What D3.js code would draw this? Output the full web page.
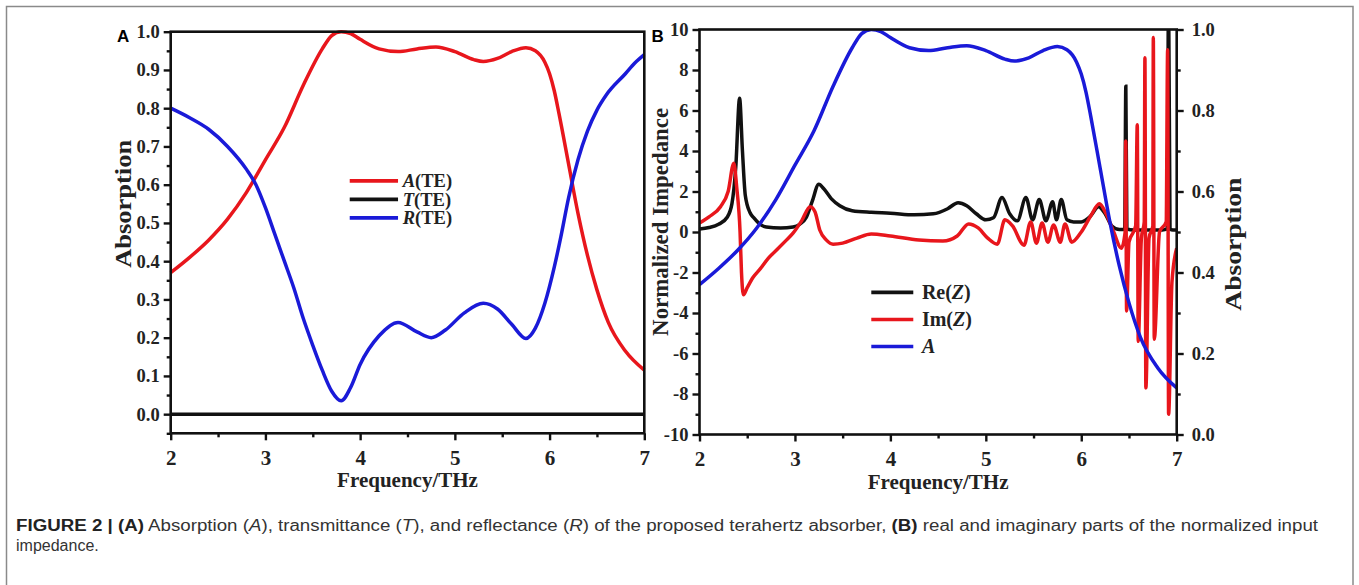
<!DOCTYPE html>
<html>
<head>
<meta charset="utf-8">
<script src="https://cdn.jsdelivr.net/npm/d3@7"></script>
<style>
  body { margin: 0; background: #fff; }
  .tick text { font-family: "Liberation Serif", "Times New Roman", serif; font-weight: bold; fill: #222; }
  .tick line { stroke: #111; stroke-width: 2.4; }
  .serif { font-family: "Liberation Serif", "Times New Roman", serif; font-weight: bold; fill: #222; }
  .caption { font-family: "Liberation Sans", Arial, sans-serif; font-size: 16px; fill: #333; }
</style>
</head>
<body>
<div id="chart"></div>
<script>
// ---------- values ----------

// tick labels
const freqTicks = [2, 3, 4, 5, 6, 7];
const absTicks = [0.0, 0.1, 0.2, 0.3, 0.4, 0.5, 0.6, 0.7, 0.8, 0.9, 1.0];
const impTicks = [-10, -8, -6, -4, -2, 0, 2, 4, 6, 8, 10];
const rightTicks = [0.0, 0.2, 0.4, 0.6, 0.8, 1.0];

// absorption A(TE), also the blue "A" curve in panel B
const absFreq = [2.0, 2.2, 2.4, 2.6, 2.8, 3.0, 3.2, 3.4, 3.6, 3.7, 3.8, 3.9, 4.0, 4.2, 4.4, 4.6, 4.8, 5.0,
  5.2, 5.3, 5.45, 5.6, 5.75, 5.85, 5.95, 6.0, 6.05, 6.1, 6.2, 6.3, 6.4, 6.5, 6.62, 6.8, 7.0];
const absVals = [0.37, 0.41, 0.455, 0.51, 0.58, 0.665, 0.75, 0.86, 0.955, 0.99, 1.0, 0.995, 0.98, 0.955, 0.948,
  0.955, 0.96, 0.948, 0.927, 0.922, 0.93, 0.948, 0.958, 0.95, 0.92, 0.89, 0.845, 0.785, 0.655, 0.525, 0.415, 0.325,
  0.24, 0.165, 0.115];

// transmittance T(TE)
const transFreq = [2.0, 7.0];
const transVals = [0.0, 0.0];

// reflectance R(TE)
const reflFreq = [2.0, 2.2, 2.4, 2.6, 2.8, 2.9, 3.0, 3.1, 3.2, 3.3, 3.4, 3.5, 3.6, 3.7, 3.8, 3.9, 4.0, 4.2,
  4.4, 4.6, 4.75, 4.9, 5.1, 5.3, 5.45, 5.6, 5.75, 5.85, 5.95, 6.05, 6.12, 6.2, 6.3, 6.4, 6.5, 6.6, 6.8, 6.9, 7.0];
const reflVals = [0.8, 0.775, 0.745, 0.7, 0.64, 0.6, 0.54, 0.47, 0.4, 0.33, 0.25, 0.18, 0.115, 0.06, 0.035,
  0.07, 0.13, 0.205, 0.24, 0.215, 0.2, 0.22, 0.265, 0.29, 0.275, 0.235, 0.198, 0.225, 0.29, 0.385, 0.465, 0.565,
  0.665, 0.74, 0.795, 0.835, 0.89, 0.918, 0.94];

// Re(Z)
const reFreq = [2.0, 2.1, 2.2, 2.29, 2.34, 2.38, 2.42, 2.45, 2.48, 2.53, 2.57, 2.63, 2.7, 2.85, 2.98, 3.05,
  3.12, 3.18, 3.25, 3.3, 3.38, 3.47, 3.6, 3.8, 4.0, 4.25, 4.45, 4.6, 4.71, 4.8, 4.9, 5.0, 5.08, 5.17, 5.25,
  5.33, 5.42, 5.49, 5.56, 5.63, 5.7, 5.74, 5.79, 5.85, 5.92, 6.0, 6.1, 6.18, 6.25, 6.32, 6.4, 6.455, 6.467,
  6.478, 6.55, 6.7, 6.85, 6.9, 6.915, 6.93, 6.96, 7.0];
const reVals = [0.15, 0.22, 0.38, 0.73, 1.4, 3.2, 6.6, 4.0, 1.8, 0.95, 0.7, 0.4, 0.25, 0.2, 0.25, 0.38,
  0.73, 1.5, 2.36, 2.15, 1.65, 1.3, 1.05, 0.97, 0.93, 0.85, 0.9, 1.15, 1.45, 1.3, 0.9, 0.6, 0.7, 1.7, 0.9,
  0.55, 1.7, 0.6, 1.6, 0.55, 1.5, 0.6, 1.6, 0.6, 0.5, 0.5, 0.8, 1.25, 0.9, 0.3, 0.12, 0.12, 7.2,
  0.15, 0.1, 0.1, 0.1, 0.15, 12, 0.15, 0.1, 0.1];

// Im(Z)
const imFreq = [2.0, 2.1, 2.22, 2.3, 2.36, 2.39, 2.425, 2.44, 2.46, 2.5, 2.56, 2.64, 2.72, 2.81, 2.9, 2.98,
  3.07, 3.16, 3.21, 3.26, 3.33, 3.4, 3.5, 3.65, 3.8, 4.0, 4.3, 4.55, 4.7, 4.82, 4.92, 5.02, 5.12, 5.2, 5.28,
  5.4, 5.47, 5.53, 5.59, 5.65, 5.71, 5.78, 5.83, 5.9, 6.0, 6.1, 6.19, 6.26, 6.34, 6.42, 6.46, 6.466, 6.475,
  6.5, 6.57, 6.587, 6.597, 6.63, 6.66, 6.667, 6.677, 6.71, 6.75, 6.755, 6.765, 6.82, 6.89, 6.905, 6.915,
  6.95, 7.0];
const imVals = [0.45, 0.75, 1.25, 2.0, 3.4, 2.2, 0.0, -2.0, -3.1, -2.75, -2.25, -1.8, -1.3, -0.88, -0.45,
  -0.06, 0.55, 1.25, 1.0, 0.1, -0.4, -0.6, -0.55, -0.3, -0.1, -0.2, -0.4, -0.45, -0.2, 0.4, 0.2, -0.3, -0.6,
  0.6, 0.3, -0.65, 0.5, -0.55, 0.45, -0.5, 0.35, -0.5, 0.4, -0.5, 0.0, 0.8, 1.4, 0.9, 0.0, -0.8, 0.0, 4.5,
  -3.9, -0.5, 0.3, 5.3, -5.4, -0.3, 0.5, 8.6, -7.7, -0.3, 0.3, 9.6, -5.3, 0.0, 0.5, 9.0, -9.0, -2.5, -0.8];

const RED = "#e8161c";
const BLUE = "#1a1ad8";
const BLACK = "#111";

// ---------- svg ----------
const W = 1359, H = 585;
const svg = d3.select("#chart").append("svg")
    .attr("width", W)
    .attr("height", H);

// outer frame of the figure (bottom edge runs off the page)
svg.append("rect")
    .attr("x", 6.5).attr("y", 6.5)
    .attr("width", 1346.5).attr("height", 700)
    .attr("fill", "none")
    .attr("stroke", "#8a8a8a")
    .attr("stroke-width", 1.5);

const zip = (xs, ys) => xs.map((x, i) => [x, ys[i]]);
const plain = d => String(d);   // keeps the short hyphen of the original labels

// draw one axis with major labelled ticks and small unlabelled ones
function axis(g, maker, scale, major, minor, fmt, fontSize, pad) {
    g.call(maker(scale).tickValues(minor).tickSize(4).tickFormat(""))
        .call(a => a.select(".domain").remove());
    const g2 = g.append("g")
        .call(maker(scale).tickValues(major).tickSize(7).tickPadding(pad).tickFormat(fmt));
    g2.select(".domain").remove();
    g2.selectAll("text").style("font-size", fontSize + "px");
}

// ******************** panel A ********************
const ax = d3.scaleLinear().domain([2, 7]).range([170.7, 644.3]);
const ay = d3.scaleLinear().domain([-0.05, 1.0]).range([433.3, 31.7]);

axis(svg.append("g").attr("transform", `translate(0,${ay(-0.05)})`),
    d3.axisBottom, ax, freqTicks, d3.range(2.5, 7, 1), plain, 21, 10);
axis(svg.append("g").attr("transform", `translate(${ax(2)},0)`),
    d3.axisLeft, ay, absTicks, d3.range(-0.05, 1.0, 0.1), d3.format(".1f"), 18.5, 4);

const lineA = d3.line()
    .x(d => ax(d[0]))
    .y(d => ay(d[1]))
    .curve(d3.curveMonotoneX);

svg.append("path").datum(zip(transFreq, transVals))
    .attr("fill", "none").attr("stroke", BLACK).attr("stroke-width", 3.5).attr("d", lineA);
svg.append("path").datum(zip(absFreq, absVals))
    .attr("fill", "none").attr("stroke", RED).attr("stroke-width", 3.5).attr("d", lineA);
svg.append("path").datum(zip(reflFreq, reflVals))
    .attr("fill", "none").attr("stroke", BLUE).attr("stroke-width", 3.5).attr("d", lineA);

svg.append("rect")
    .attr("x", ax(2)).attr("y", ay(1))
    .attr("width", ax(7) - ax(2)).attr("height", ay(-0.05) - ay(1))
    .attr("fill", "none").attr("stroke", BLACK).attr("stroke-width", 2.6);

// axis titles
svg.append("text").attr("class", "serif")
    .attr("transform", `translate(131,${ay(0.55)}) rotate(-90)`)
    .attr("text-anchor", "middle")
    .attr("font-size", 24)
    .attr("textLength", 128).attr("lengthAdjust", "spacingAndGlyphs")
    .text("Absorption");
svg.append("text").attr("class", "serif")
    .attr("x", ax(4.5)).attr("y", 487)
    .attr("text-anchor", "middle")
    .attr("font-size", 21)
    .text("Frequency/THz");

// legend A
const legA = [["A", "(TE)", RED], ["T", "(TE)", BLACK], ["R", "(TE)", BLUE]];
legA.forEach((d, i) => {
    const y = ay(0.61) + i * 18.5;
    svg.append("line")
        .attr("x1", ax(3.89)).attr("x2", ax(4.4))
        .attr("y1", y).attr("y2", y)
        .attr("stroke", d[2]).attr("stroke-width", 3.6);
    const t = svg.append("text").attr("class", "serif")
        .attr("x", ax(4.45)).attr("y", y).attr("dy", "0.34em")
        .attr("font-size", 18.5);
    t.append("tspan").attr("font-style", "italic").text(d[0]);
    t.append("tspan").text(d[1]);
});

// panel letter
svg.append("text")
    .attr("x", 117).attr("y", 41.7)
    .attr("font-family", "Liberation Sans, Arial, sans-serif")
    .attr("font-weight", "bold").attr("font-size", 17)
    .text("A");

// ******************** panel B ********************
const bx = d3.scaleLinear().domain([2, 7]).range([699.5, 1176.7]);
const by = d3.scaleLinear().domain([-10, 10]).range([434.5, 29.5]);
const byR = d3.scaleLinear().domain([0, 1]).range([434.5, 29.5]);

axis(svg.append("g").attr("transform", `translate(0,${by(-10)})`),
    d3.axisBottom, bx, freqTicks, d3.range(2.5, 7, 1), plain, 21, 10);
axis(svg.append("g").attr("transform", `translate(${bx(2)},0)`),
    d3.axisLeft, by, impTicks, d3.range(-9, 10, 2), plain, 18.5, 4);
axis(svg.append("g").attr("transform", `translate(${bx(7)},0)`),
    d3.axisRight, byR, rightTicks, d3.range(0.1, 1.0, 0.2), d3.format(".1f"), 18.5, 8);

svg.append("clipPath").attr("id", "clipB")
    .append("rect")
    .attr("x", bx(2)).attr("y", by(10))
    .attr("width", bx(7) - bx(2)).attr("height", by(-10) - by(10));

const plotB = svg.append("g").attr("clip-path", "url(#clipB)");

const lineB = d3.line()
    .x(d => bx(d[0]))
    .y(d => by(d[1]))
    .curve(d3.curveMonotoneX);
const lineBR = d3.line()
    .x(d => bx(d[0]))
    .y(d => byR(d[1]))
    .curve(d3.curveMonotoneX);

plotB.append("path").datum(zip(reFreq, reVals))
    .attr("fill", "none").attr("stroke", BLACK).attr("stroke-width", 3.5).attr("d", lineB);
plotB.append("path").datum(zip(imFreq, imVals))
    .attr("fill", "none").attr("stroke", RED).attr("stroke-width", 3.5).attr("d", lineB);
plotB.append("path").datum(zip(absFreq, absVals))
    .attr("fill", "none").attr("stroke", BLUE).attr("stroke-width", 3.5).attr("d", lineBR);

svg.append("rect")
    .attr("x", bx(2)).attr("y", by(10))
    .attr("width", bx(7) - bx(2)).attr("height", by(-10) - by(10))
    .attr("fill", "none").attr("stroke", BLACK).attr("stroke-width", 2.6);

// axis titles
svg.append("text").attr("class", "serif")
    .attr("transform", `translate(668,${by(0.5)}) rotate(-90)`)
    .attr("text-anchor", "middle")
    .attr("font-size", 24)
    .attr("textLength", 228).attr("lengthAdjust", "spacingAndGlyphs")
    .text("Normalized Impedance");
svg.append("text").attr("class", "serif")
    .attr("transform", `translate(1241,${byR(0.47)}) rotate(-90)`)
    .attr("text-anchor", "middle")
    .attr("font-size", 24)
    .attr("textLength", 133).attr("lengthAdjust", "spacingAndGlyphs")
    .text("Absorption");
svg.append("text").attr("class", "serif")
    .attr("x", bx(4.5)).attr("y", 489)
    .attr("text-anchor", "middle")
    .attr("font-size", 21)
    .text("Frequency/THz");

// legend B
const legB = [["Re(", "Z", ")", BLACK], ["Im(", "Z", ")", RED], ["", "A", "", BLUE]];
legB.forEach((d, i) => {
    const y = by(-2.98) + i * 27.1;
    svg.append("line")
        .attr("x1", bx(3.8)).attr("x2", bx(4.24))
        .attr("y1", y).attr("y2", y)
        .attr("stroke", d[3]).attr("stroke-width", 3.6);
    const t = svg.append("text").attr("class", "serif")
        .attr("x", bx(4.33)).attr("y", y).attr("dy", "0.34em")
        .attr("font-size", 20);
    t.append("tspan").text(d[0]);
    t.append("tspan").attr("font-style", "italic").text(d[1]);
    t.append("tspan").text(d[2]);
});

svg.append("text")
    .attr("x", 651.5).attr("y", 41.7)
    .attr("font-family", "Liberation Sans, Arial, sans-serif")
    .attr("font-weight", "bold").attr("font-size", 17)
    .text("B");

// ******************** caption ********************
const capParts = [
    ["FIGURE 2 | (A)", "bold"], [" Absorption (", ""], ["A", "italic"], ["), transmittance (", ""],
    ["T", "italic"], ["), and reflectance (", ""], ["R", "italic"], [") of the proposed terahertz absorber, ", ""],
    ["(B)", "bold"], [" real and imaginary parts of the normalized input", ""]
];
const cap = svg.append("text").attr("class", "caption")
    .attr("x", 16).attr("y", 531)
    .attr("textLength", 1302).attr("lengthAdjust", "spacingAndGlyphs");
capParts.forEach(p => {
    const s = cap.append("tspan").text(p[0]);
    if (p[1] === "bold") s.attr("font-weight", "bold").attr("fill", "#222");
    if (p[1] === "italic") s.attr("font-style", "italic");
});
svg.append("text").attr("class", "caption")
    .attr("x", 16).attr("y", 551)
    .text("impedance.");
</script>
</body>
</html>
